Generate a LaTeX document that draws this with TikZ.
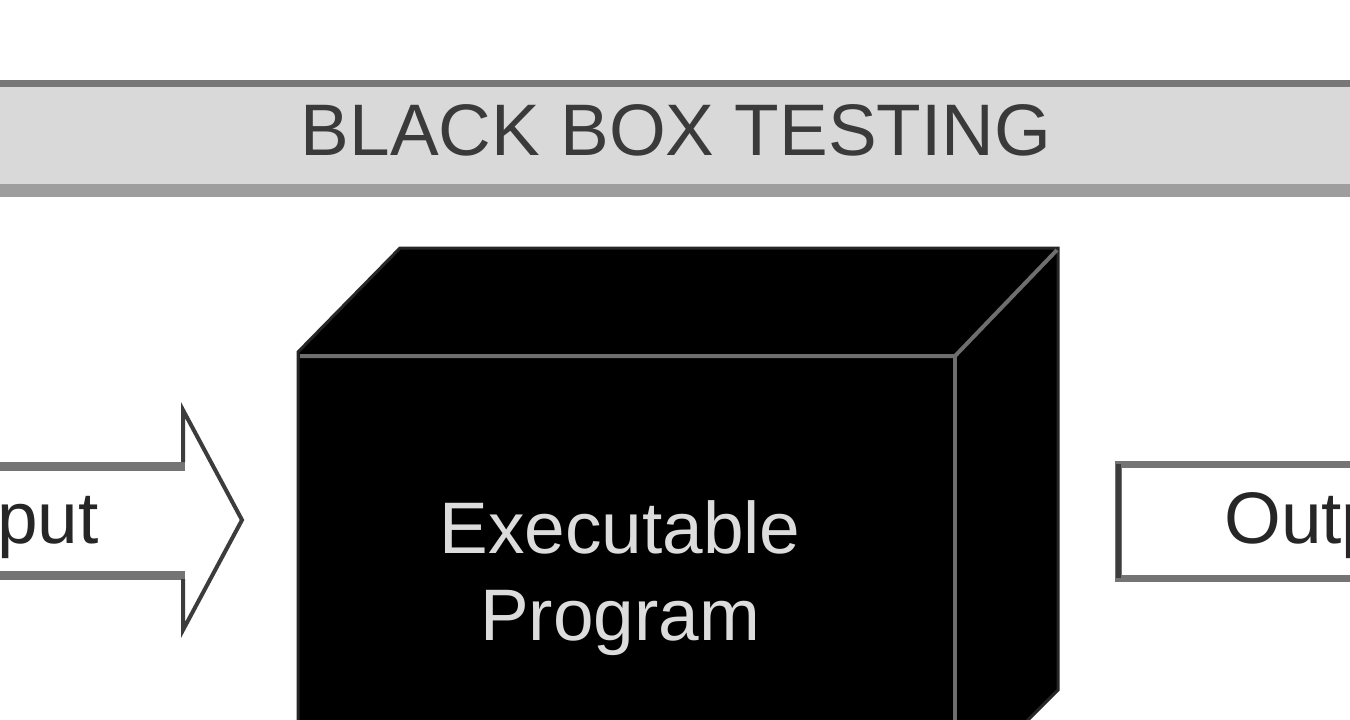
\documentclass[tikz,border=0pt]{standalone}
\usepackage{fontspec}
\setmainfont{Liberation Sans}
\definecolor{bannerfill}{HTML}{D9D9D9}
\definecolor{bannertop}{HTML}{777777}
\definecolor{bannerbot}{HTML}{9E9E9E}
\definecolor{edgegray}{HTML}{6E6E6E}
\definecolor{titletext}{HTML}{3A3A3A}
\definecolor{facetext}{HTML}{DCDCDC}
\definecolor{boxgray}{HTML}{747474}
\definecolor{headgray}{HTML}{3C3C3C}
\tikzset{
  bigtext/.style={font=\fontsize{73}{87}\selectfont, inner sep=0pt},
  title/.style={bigtext, text=titletext, anchor=base},
  facelabel/.style={bigtext, text=facetext, anchor=base},
  iolabel/.style={bigtext, text=black!85},
  cubeedge/.style={draw=edgegray, line width=4pt},
}
\begin{document}
\begin{tikzpicture}[x=1pt,y=-1pt]
\useasboundingbox (0,0) rectangle (1350,720);
\clip (0,0) rectangle (1350,720);
\fill[white] (0,0) rectangle (1350,720);
% banner
\fill[bannerfill] (-20,83) rectangle (1370,190);
\draw[bannertop, line width=7pt] (-20,83) -- (1370,83);
\draw[bannerbot, line width=13pt] (-20,190) -- (1370,190);
\node[title] (banner) at (676,155) {BLACK BOX TESTING};
% cube
\filldraw[fill=black, draw=black!85, line width=3pt]
  (298,352) -- (400,248) -- (1058,248) -- (1058,690) -- (956,792) -- (298,792) -- cycle;
\draw[cubeedge] (300,356) -- (955,356) -- (1057,250);
\draw[cubeedge] (955,356) -- (955,800);
\node[facelabel] (exe) at (620,553) {Executable};
\node[facelabel] (prog) at (620,640) {Program};
% input arrow
\fill[white] (-100,465) -- (183,465) -- (183,410) -- (242,520) -- (183,630) -- (183,575) -- (-100,575) -- cycle;
\draw[boxgray, line width=9pt] (-100,466) -- (185,466);
\draw[boxgray, line width=9pt] (-100,575) -- (185,575);
\draw[headgray, line width=4pt, line join=miter] (183,462) -- (183,410) -- (242,520) -- (183,630) -- (183,579);
\node[iolabel, anchor=base east] (input) at (99,543) {Input};
% output box
\draw[boxgray, line width=7pt, fill=white] (1118,464) rectangle (1500,578);
\draw[headgray, line width=5pt] (1118,464) -- (1118,578);
\node[iolabel, anchor=base west] (output) at (1224,543) {Output};
\end{tikzpicture}
\end{document}
